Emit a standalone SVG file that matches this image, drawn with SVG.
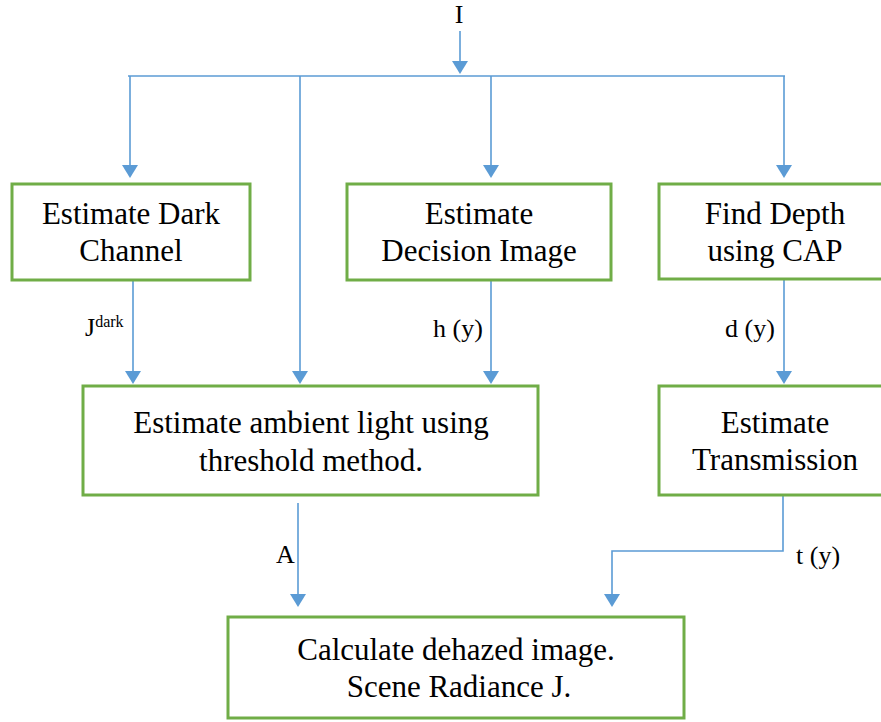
<svg xmlns="http://www.w3.org/2000/svg" width="881" height="722" viewBox="0 0 881 722">
<defs>
<style>
.box{fill:#fff;stroke:#70AD47;stroke-width:3}
.t{font-family:"Liberation Serif","Times New Roman",serif;font-size:31px;fill:#000;text-anchor:middle}
.l{font-family:"Liberation Serif","Times New Roman",serif;font-size:26px;fill:#000}
.c{fill:none;stroke:#5B9BD5;stroke-width:1.6}
</style>
</defs>
<rect width="881" height="722" fill="#fff"/>
<g id="connectors">
<path class="c" d="M460,31 V62"/>
<path class="c" d="M128,76 H785"/>
<path class="c" d="M130,76 V166"/>
<path class="c" d="M300,76 V372"/>
<path class="c" d="M491,76 V166"/>
<path class="c" d="M784,76 V166"/>
<path class="c" d="M133,280 V372"/>
<path class="c" d="M491,280 V372"/>
<path class="c" d="M784,280 V372"/>
<path class="c" d="M298,503 V595"/>
<path class="c" d="M783,496 V551 H612 V595"/>
<g id="arrowheads" fill="#5B9BD5">
<path d="M452,61 L468,61 L460,74 Z"/>
<path d="M122,165 L138,165 L130,178 Z"/>
<path d="M483,165 L499,165 L491,178 Z"/>
<path d="M776,165 L792,165 L784,178 Z"/>
<path d="M125,371 L141,371 L133,384 Z"/>
<path d="M292,371 L308,371 L300,384 Z"/>
<path d="M483,371 L499,371 L491,384 Z"/>
<path d="M776,371 L792,371 L784,384 Z"/>
<path d="M290,594 L306,594 L298,607 Z"/>
<path d="M604,594 L620,594 L612,607 Z"/>
</g>
</g>
<g id="labels">
<text class="l" x="459" y="23" text-anchor="middle">I</text>
<text class="l" x="85" y="336">J<tspan font-size="16" dy="-9">dark</tspan></text>
<text class="l" x="433" y="337">h (y)</text>
<text class="l" x="725" y="337">d (y)</text>
<text class="l" x="276" y="563">A</text>
<text class="l" x="796" y="564">t (y)</text>
</g>
<g id="n1"><rect class="box" x="12" y="184" width="238" height="96"/>
<text class="t" x="131" y="224">Estimate Dark</text><text class="t" x="131" y="261">Channel</text></g>
<g id="n2"><rect class="box" x="347" y="184" width="264" height="96"/>
<text class="t" x="479" y="224">Estimate</text><text class="t" x="479" y="261">Decision Image</text></g>
<g id="n3"><rect class="box" x="659" y="184" width="224" height="95"/>
<text class="t" x="775" y="224">Find Depth</text><text class="t" x="775" y="261">using CAP</text></g>
<g id="n4"><rect class="box" x="83" y="386" width="455" height="109"/>
<text class="t" x="311" y="433">Estimate ambient light using</text><text class="t" x="311" y="471">threshold method.</text></g>
<g id="n5"><rect class="box" x="659" y="386" width="224" height="109"/>
<text class="t" x="775" y="433">Estimate</text><text class="t" x="775" y="470">Transmission</text></g>
<g id="n6"><rect class="box" x="228" y="617" width="456" height="101"/>
<text class="t" x="456" y="660">Calculate dehazed image.</text><text class="t" x="459" y="697">Scene Radiance J.</text></g>
</svg>
